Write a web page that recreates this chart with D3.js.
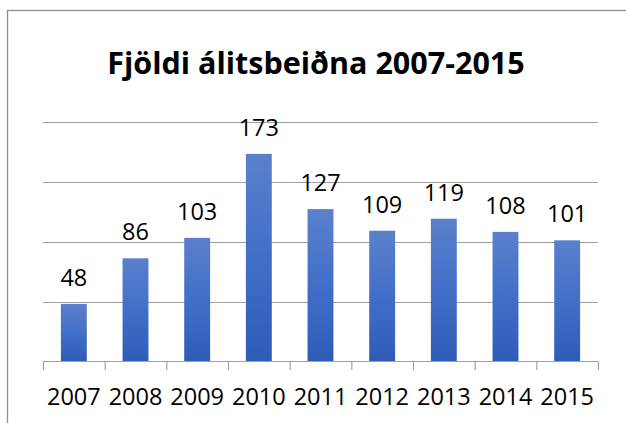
<!DOCTYPE html>
<html><head><meta charset="utf-8">
<script src="https://cdn.jsdelivr.net/npm/d3@7"></script>
<style>html,body{margin:0;padding:0;background:#fff;}</style>
</head><body>
<svg id="c" width="626" height="423"></svg>
<script>
const title = "Fjöldi álitsbeiðna 2007-2015";
const years = ["2007","2008","2009","2010","2011","2012","2013","2014","2015"];
const counts = [48, 86, 103, 173, 127, 109, 119, 108, 101];
const gridTicks = [0, 50, 100, 150, 200];

const svg = d3.select("#c");
const font = "'Open Sans', sans-serif";

// border (extends past right/bottom edge)
svg.append("rect").attr("x", 7.5).attr("y", 10.5).attr("width", 700).attr("height", 500)
  .attr("fill", "none").attr("stroke", "#8f8f8f").attr("stroke-width", 1.3);

const defs = svg.append("defs");
const g = defs.append("linearGradient").attr("id", "bg").attr("x1", 0).attr("y1", 0).attr("x2", 0).attr("y2", 1);
g.append("stop").attr("offset", "0%").attr("stop-color", "#5b80cc");
g.append("stop").attr("offset", "50%").attr("stop-color", "#416fc8");
g.append("stop").attr("offset", "100%").attr("stop-color", "#2e5bb8");

const x = d3.scaleBand().domain(years).range([43, 598]).paddingInner(0.58).paddingOuter(0.29);
const y = d3.scaleLinear().domain([0, 200]).range([361.5, 121.5]);

// gridlines
svg.append("g").selectAll("line").data(gridTicks.slice(1)).join("line")
  .attr("x1", 43).attr("x2", 598)
  .attr("y1", d => Math.round(y(d)) + 0.5).attr("y2", d => Math.round(y(d)) + 0.5)
  .attr("stroke", "#a0a0a0").attr("stroke-width", 1.2);

// bars
svg.append("g").selectAll("rect").data(counts).join("rect")
  .attr("x", (d, i) => x(years[i])).attr("width", x.bandwidth())
  .attr("y", d => y(d)).attr("height", d => y(0) - y(d))
  .attr("fill", "url(#bg)");

// x axis
const step = x.step();
const ax = svg.append("g");
ax.append("line").attr("x1", 43).attr("x2", 598).attr("y1", 361.5).attr("y2", 361.5)
  .attr("stroke", "#a0a0a0").attr("stroke-width", 1.2);
ax.selectAll("line.t").data(d3.range(years.length + 1)).join("line").attr("class", "t")
  .attr("x1", i => 43.5 + i * step).attr("x2", i => 43.5 + i * step)
  .attr("y1", 361.5).attr("y2", 370)
  .attr("stroke", "#a0a0a0").attr("stroke-width", 1.2);
ax.selectAll("text").data(years).join("text")
  .attr("x", d => x(d) + x.bandwidth() / 2).attr("y", 405)
  .attr("text-anchor", "middle").attr("font-family", font).attr("font-size", 23.5)
  .attr("fill", "#000").text(d => d);

// value labels
svg.append("g").selectAll("text").data(counts).join("text")
  .attr("x", (d, i) => x(years[i]) + x.bandwidth() / 2).attr("y", d => y(d) - 18)
  .attr("text-anchor", "middle").attr("font-family", font).attr("font-size", 23.5)
  .attr("fill", "#000").text(d => d);

// title
svg.append("text").attr("x", 316).attr("y", 73.5).attr("text-anchor", "middle")
  .attr("font-family", font).attr("font-weight", "bold").attr("font-size", 30.5)
  .attr("fill", "#000").text(title);
</script>
</body></html>
